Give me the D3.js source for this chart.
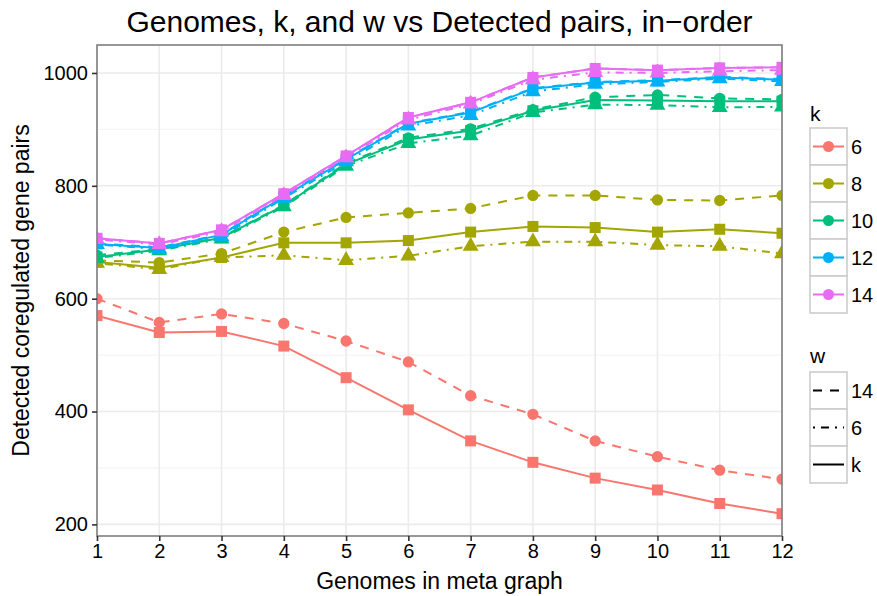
<!DOCTYPE html>
<html>
<head>
<meta charset="utf-8">
<script src="https://cdn.jsdelivr.net/npm/d3@7"></script>
<style>
  html, body { margin: 0; padding: 0; background: #fff; }
  svg { display: block; font-family: "Liberation Sans", Arial, Helvetica, sans-serif; }
</style>
</head>
<body>
<svg id="chart" width="877" height="596"></svg>
<script>
// Genomes in the meta graph (x axis)
const genomes = [1, 2, 3, 4, 5, 6, 7, 8, 9, 10, 11, 12];

// k values (colour) and w settings (line type / point shape)
const kLevels = ["6", "8", "10", "12", "14"];
const wLevels = ["14", "6", "k"];

// Detected coregulated gene pairs, one array per (k, w) combination
const k6_w14 = [600, 558, 573, 556, 525, 488, 428, 395, 348, 320, 296, 280];
const k6_wk  = [570, 540, 542, 516, 460, 403, 348, 310, 282, 261, 237, 219];

const k8_w14 = [668, 664, 680, 718, 744, 752, 760, 783, 783, 775, 774, 783];
const k8_w6  = [663, 652, 673, 677, 668, 676, 693, 701, 701, 695, 693, 680];
const k8_wk  = [665, 655, 673, 699, 699, 703, 718, 728, 726, 718, 723, 716];

const k10_w14 = [677, 688, 709, 766, 840, 885, 901, 935, 957, 961, 955, 953];
const k10_w6  = [672, 685, 706, 763, 835, 875, 889, 930, 944, 943, 939, 940];
const k10_wk  = [674, 687, 708, 765, 838, 882, 898, 933, 952, 951, 950, 950];

const k12_w14 = [698, 691, 714, 782, 848, 911, 931, 973, 984, 987, 993, 989];
const k12_w6  = [696, 688, 710, 778, 843, 906, 925, 967, 980, 984, 990, 985];
const k12_wk  = [697, 690, 713, 781, 847, 910, 930, 972, 983, 986, 992, 988];

const k14_w6  = [705, 696, 719, 783, 850, 917, 945, 988, 1001, 1000, 1003, 1005];
const k14_wk  = [707, 698, 722, 786, 853, 921, 948, 992, 1008, 1005, 1009, 1010];

const yTicks = [200, 400, 600, 800, 1000];
const yMinor = [300, 500, 700, 900];

const series = [
  { k: "6",  w: "14", values: k6_w14 },
  { k: "6",  w: "k",  values: k6_wk },
  { k: "8",  w: "14", values: k8_w14 },
  { k: "8",  w: "6",  values: k8_w6 },
  { k: "8",  w: "k",  values: k8_wk },
  { k: "10", w: "14", values: k10_w14 },
  { k: "10", w: "6",  values: k10_w6 },
  { k: "10", w: "k",  values: k10_wk },
  { k: "12", w: "14", values: k12_w14 },
  { k: "12", w: "6",  values: k12_w6 },
  { k: "12", w: "k",  values: k12_wk },
  { k: "14", w: "14", values: k14_wk },
  { k: "14", w: "6",  values: k14_w6 },
  { k: "14", w: "k",  values: k14_wk }
];

const svg = d3.select("#chart");
const panel = { left: 97, right: 782, top: 45, bottom: 536 };

const allValues = series.flatMap(s => s.values);
const yMin = d3.min(allValues), yMax = d3.max(allValues);
const pad = (yMax - yMin) * 0.05;

const x = d3.scaleLinear().domain([1, 12]).range([panel.left, panel.right]);
const y = d3.scaleLinear().domain([yMin - pad, yMax + pad]).range([panel.bottom, panel.top]);

const colour = d3.scaleOrdinal().domain(kLevels)
  .range(["#F8766D", "#A3A500", "#00BF7D", "#00B0F6", "#E76BF3"]);
const dash = d3.scaleOrdinal().domain(wLevels).range(["9,8", "2,6,8,6", null]);
const shape = d3.scaleOrdinal().domain(wLevels)
  .range([d3.symbolCircle, d3.symbolTriangle, d3.symbolSquare]);
const shapeSize = d3.scaleOrdinal().domain(wLevels).range([100, 110, 121]);

// panel background and grid
svg.append("rect")
  .attr("x", panel.left).attr("y", panel.top)
  .attr("width", panel.right - panel.left).attr("height", panel.bottom - panel.top)
  .attr("fill", "#fff");

const grid = svg.append("g");
grid.selectAll("line.minor").data(yMinor).join("line")
  .attr("x1", panel.left).attr("x2", panel.right)
  .attr("y1", d => y(d)).attr("y2", d => y(d))
  .attr("stroke", "#F5F5F5").attr("stroke-width", 1.2);
grid.selectAll("line.majorY").data(yTicks).join("line")
  .attr("x1", panel.left).attr("x2", panel.right)
  .attr("y1", d => y(d)).attr("y2", d => y(d))
  .attr("stroke", "#EBEBEB").attr("stroke-width", 1.6);
grid.selectAll("line.majorX").data(genomes).join("line")
  .attr("y1", panel.top).attr("y2", panel.bottom)
  .attr("x1", d => x(d)).attr("x2", d => x(d))
  .attr("stroke", "#EBEBEB").attr("stroke-width", 1.6);

svg.append("clipPath").attr("id", "panelClip")
  .append("rect")
  .attr("x", panel.left).attr("y", panel.top)
  .attr("width", panel.right - panel.left).attr("height", panel.bottom - panel.top);

const plot = svg.append("g").attr("clip-path", "url(#panelClip)");

const line = d3.line().x((d, i) => x(genomes[i])).y(d => y(d));

plot.selectAll("path.series").data(series).join("path")
  .attr("class", "series")
  .attr("d", s => line(s.values))
  .attr("fill", "none")
  .attr("stroke", s => colour(s.k))
  .attr("stroke-width", 2)
  .attr("stroke-dasharray", s => dash(s.w));

series.forEach(s => {
  plot.append("g").selectAll("path").data(s.values).join("path")
    .attr("transform", (d, i) => `translate(${x(genomes[i])},${y(d)})`)
    .attr("d", d3.symbol().type(shape(s.w)).size(shapeSize(s.w)))
    .attr("fill", colour(s.k));
});

// panel border
svg.append("rect")
  .attr("x", panel.left).attr("y", panel.top)
  .attr("width", panel.right - panel.left).attr("height", panel.bottom - panel.top)
  .attr("fill", "none").attr("stroke", "#7F7F7F").attr("stroke-width", 1.6);

// axes
const xAxis = svg.append("g")
  .attr("transform", `translate(0,${panel.bottom})`)
  .call(d3.axisBottom(x).tickValues(genomes).tickFormat(d3.format("d")).tickSize(5).tickPadding(3));
const yAxis = svg.append("g")
  .attr("transform", `translate(${panel.left},0)`)
  .call(d3.axisLeft(y).tickValues(yTicks).tickFormat(d3.format("d")).tickSize(5).tickPadding(4));
[xAxis, yAxis].forEach(a => {
  a.select(".domain").remove();
  a.selectAll(".tick line").attr("stroke", "#333").attr("stroke-width", 1.6);
  a.selectAll(".tick text").attr("fill", "#000").style("font-size", "20px")
    .style("font-family", "'Liberation Sans', Arial, sans-serif");
});

// titles
svg.append("text")
  .attr("x", (panel.left + panel.right) / 2).attr("y", 32)
  .attr("text-anchor", "middle").style("font-size", "30px")
  .text("Genomes, k, and w vs Detected pairs, in\u2212order");

svg.append("text")
  .attr("x", (panel.left + panel.right) / 2).attr("y", 589)
  .attr("text-anchor", "middle").style("font-size", "23px")
  .text("Genomes in meta graph");

svg.append("text")
  .attr("transform", `translate(29,${(panel.top + panel.bottom) / 2}) rotate(-90)`)
  .attr("text-anchor", "middle").style("font-size", "23px")
  .text("Detected coregulated gene pairs");

// legends
const keyX = 810, keySize = 37;

const kLegend = svg.append("g");
kLegend.append("text").attr("x", keyX).attr("y", 121).style("font-size", "21px").text("k");
kLevels.forEach((k, i) => {
  const top = 128 + i * keySize;
  const g = kLegend.append("g");
  g.append("rect").attr("x", keyX).attr("y", top).attr("width", keySize).attr("height", keySize)
    .attr("fill", "#fff").attr("stroke", "#CCCCCC").attr("stroke-width", 1.6);
  g.append("line").attr("x1", keyX + 3).attr("x2", keyX + keySize - 3)
    .attr("y1", top + keySize / 2).attr("y2", top + keySize / 2)
    .attr("stroke", colour(k)).attr("stroke-width", 2);
  g.append("circle").attr("cx", keyX + keySize / 2).attr("cy", top + keySize / 2).attr("r", 5.5)
    .attr("fill", colour(k));
  g.append("text").attr("x", keyX + keySize + 4).attr("y", top + keySize / 2 + 7)
    .style("font-size", "20px").text(k);
});

const wLegend = svg.append("g");
wLegend.append("text").attr("x", keyX).attr("y", 363).style("font-size", "21px").text("w");
wLevels.forEach((w, i) => {
  const top = 372 + i * keySize;
  const g = wLegend.append("g");
  g.append("rect").attr("x", keyX).attr("y", top).attr("width", keySize).attr("height", keySize)
    .attr("fill", "#fff").attr("stroke", "#CCCCCC").attr("stroke-width", 1.6);
  g.append("line").attr("x1", keyX + 3).attr("x2", keyX + keySize - 3)
    .attr("y1", top + keySize / 2).attr("y2", top + keySize / 2)
    .attr("stroke", "#000").attr("stroke-width", 2)
    .attr("stroke-dasharray", dash(w));
  g.append("text").attr("x", keyX + keySize + 4).attr("y", top + keySize / 2 + 7)
    .style("font-size", "20px").text(w);
});
</script>
</body>
</html>
